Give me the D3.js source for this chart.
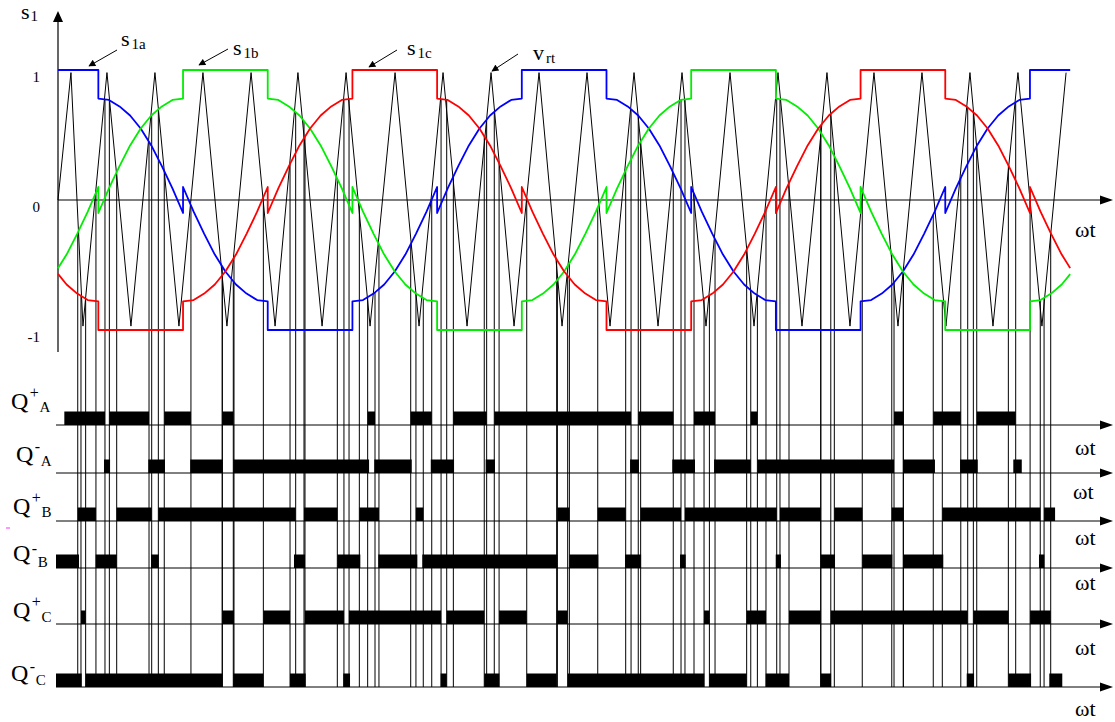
<!DOCTYPE html>
<html>
<head>
<meta charset="utf-8">
<script src="https://cdn.jsdelivr.net/npm/d3@7"></script>
<style>
  body { margin: 0; background: #fff; }
  svg { display: block; }
  text { font-family: "Liberation Serif", "Times New Roman", serif; fill: #000; }
</style>
</head>
<body>
<div id="chart"></div>
<script>
// ---- data (ωt in degrees) ----

// one period of s1a, [θ, value]; s1b and s1c are the same wave shifted
var s1Shape = [
  [-30, 1], [30, 1],
  [30, 0.78], [37.5, 0.77], [45, 0.72], [52.5, 0.65], [60, 0.55], [67.5, 0.42], [75, 0.26], [82.5, 0.09], [90, -0.1],
  [90, 0.1], [97.5, -0.09], [105, -0.26], [112.5, -0.42], [120, -0.55], [127.5, -0.65], [135, -0.72], [142.5, -0.77], [150, -0.78],
  [150, -1], [210, -1],
  [210, -0.78], [217.5, -0.77], [225, -0.72], [232.5, -0.65], [240, -0.55], [247.5, -0.42], [255, -0.26], [262.5, -0.09], [270, 0.1],
  [270, -0.1], [277.5, 0.09], [285, 0.26], [292.5, 0.42], [300, 0.55], [307.5, 0.65], [315, 0.72], [322.5, 0.77], [330, 0.78],
  [330, 1]
];
var phaseNames = ["1a", "1b", "1c"];
var phaseShift = [0, 120, 240];
var tStart = 1.4, tEnd = 718.5;

// triangular carrier v_rt vertices
var carrierT = [1.4, 10.6, 19.1, 36.1, 53.1, 70.1, 87.1, 104.1, 121.1, 138.2, 155.2, 171.4, 188.5, 205.5,
  222.5, 240.2, 257.2, 274.2, 291.2, 308.2, 324.5, 342.2, 358.5, 376.2, 392.5, 409.5, 426.5, 443.5,
  460.5, 477.5, 494.5, 511.5, 528.5, 546.2, 562.5, 579.5, 596.5, 613.5, 630.5, 647.5, 663.8, 681.5,
  698.5, 715.6];
var carrierV = [0, 0.98, -0.97, 0.98, -0.97, 0.98, -0.97, 0.98, -0.97, 0.98, -0.97, 0.98, -0.97, 0.98,
  -0.97, 0.98, -0.97, 0.98, -0.97, 0.98, -0.97, 0.98, -0.97, 0.98, -0.97, 0.98, -0.97, 0.98,
  -0.97, 0.98, -0.97, 0.98, -0.97, 0.98, -0.97, 0.98, -0.97, 0.98, -0.97, 0.98, -0.97, 0.98,
  -0.97, 0.98];

// gate signals: on-intervals [from, to]
var qPlusA = [[5.9, 34.7], [37.8, 65.9], [76.7, 95.6], [117.8, 125.6], [220.8, 226.0], [251.3, 266.2],
  [281.5, 305.1], [310.5, 407.4], [412.5, 437.3], [452.0, 466.9], [492.2, 496.9], [593.7, 600.3],
  [621.5, 641.0], [652.3, 679.9]];
var qMinusA = [[34.0, 38.3], [65.4, 77.2], [95.1, 118.1], [125.6, 221.8], [225.5, 252.0], [265.5, 282.0],
  [304.4, 311.0], [406.7, 413.0], [436.6, 452.7], [466.2, 492.2], [496.9, 593.7], [600.3, 622.7],
  [640.5, 653.0], [678.2, 684.2]];
var qPlusB = [[15.4, 28.3], [43.0, 67.8], [72.5, 169.8], [175.7, 199.3], [214.9, 228.8], [255.0, 260.2],
  [355.2, 363.7], [383.8, 403.6], [414.2, 442.8], [445.6, 510.6], [512.9, 541.8], [551.4, 571.2],
  [592.1, 600.3], [627.9, 697.3], [700.0, 707.8]];
var qMinusB = [[0, 16.3], [28.1, 43.0], [67.3, 72.8], [168.6, 176.4], [199.3, 215.6], [228.3, 256.0],
  [259.5, 355.2], [363.7, 384.2], [403.1, 414.5], [442.1, 446.1], [509.9, 513.6], [541.8, 551.9],
  [571.2, 592.5], [600.3, 628.6], [696.4, 700.2]];
var qPlusC = [[17.7, 21.0], [117.8, 126.1], [146.9, 165.8], [176.4, 204.0], [207.6, 272.8], [276.8, 303.4],
  [313.9, 333.5], [354.7, 362.5], [459.1, 462.9], [489.3, 503.0], [519.3, 541.8], [548.9, 645.9],
  [649.9, 674.7], [690.1, 704.7]];
var qMinusC = [[0, 18.2], [21.0, 117.8], [125.6, 146.9], [165.8, 176.9], [203.5, 208.3], [272.5, 276.8],
  [303.4, 314.1], [333.5, 354.7], [362.5, 459.3], [462.9, 489.3], [502.8, 519.3], [541.8, 549.1],
  [645.2, 650.4], [674.7, 690.8], [703.7, 712.9]];

var gateSigns = ["+", "-", "+", "-", "+", "-"];
var gateLetters = ["A", "A", "B", "B", "C", "C"];
var gates = [qPlusA, qMinusA, qPlusB, qMinusB, qPlusC, qMinusC];

var yTicks = [1, 0, -1];

// ---- layout ----
var W = 1115, H = 722;
var colors = ["#0000ff", "#00ee00", "#ff0000"];
var rowBase = [425, 473, 521, 568, 624, 687];
var barH = 13.5;
// label layout: Q x, Q baseline, sign dy, letter dy (relative to Q baseline)
var qLab = [[11, 409, -11, 3], [16, 462, -10, 4], [13, 514, -11, 3],
            [13, 561, -7, 6], [13, 618, -11, 4], [11, 681, -9, 4]];
var wtLab = [[1075, 455], [1073, 499], [1075, 545], [1075, 590], [1075, 655], [1075, 716]];

var x = d3.scaleLinear().domain([0, 720]).range([56, 1072.3]);
var y = d3.scaleLinear().domain([-1, 1]).range([330, 70]);

var svg = d3.select("#chart").append("svg")
  .attr("width", W).attr("height", H);

// value of a phase wave at time t (from the read shape)
function valueAt(shift, t) {
  var th = ((t - shift + 30) % 360 + 360) % 360 - 30;
  for (var i = 0; i < s1Shape.length - 1; i++) {
    var a = s1Shape[i], b = s1Shape[i + 1];
    if (b[0] > a[0] && th >= a[0] && th <= b[0]) {
      return a[1] + (b[1] - a[1]) * (th - a[0]) / (b[0] - a[0]);
    }
  }
  return 0;
}

function wavePoints(shift) {
  var pts = [[tStart, valueAt(shift, tStart)]];
  for (var k = -1; k <= 2; k++) {
    s1Shape.forEach(function(p) {
      var t = p[0] + shift + 360 * k;
      if (t > tStart && t < tEnd) pts.push([t, p[1]]);
    });
  }
  pts.push([tEnd, valueAt(shift, tEnd)]);
  return pts;
}

function arrowHead(g, tipX, tipY, dir, len, half) {
  var p;
  if (dir === "right") p = [[tipX, tipY], [tipX - len, tipY - half], [tipX - len, tipY + half]];
  else p = [[tipX, tipY], [tipX - half, tipY + len], [tipX + half, tipY + len]];
  g.append("path").attr("d", "M" + p.join("L") + "Z").attr("fill", "#000");
}

// ---- top axes ----
var topG = svg.append("g");
topG.append("line").attr("x1", 58).attr("x2", 58).attr("y1", 352).attr("y2", 20)
  .attr("stroke", "#000").attr("stroke-width", 1.2);
arrowHead(topG, 58, 11, "up", 11, 5);
topG.append("line").attr("x1", 58).attr("x2", 1102).attr("y1", y(0)).attr("y2", y(0))
  .attr("stroke", "#000").attr("stroke-width", 1.2);
arrowHead(topG, 1113, y(0), "right", 13, 4.5);

topG.selectAll("text.tick").data(yTicks).enter().append("text")
  .attr("class", "tick")
  .attr("x", 40).attr("text-anchor", "end")
  .attr("y", function(d) { return y(d) + 12; })
  .attr("font-size", 15)
  .text(function(d) { return d; });

var sl = topG.append("text").attr("x", 21).attr("y", 19).attr("font-size", 22);
sl.append("tspan").text("s");
sl.append("tspan").attr("font-size", 15).attr("dy", 2).attr("dx", 1).text("1");

topG.append("text").attr("x", 1075).attr("y", 237).attr("font-size", 22).text("ωt");

// ---- carrier ----
var line = d3.line().x(function(d) { return x(d[0]); }).y(function(d) { return y(d[1]); });
var carrier = carrierT.map(function(t, i) { return [t, carrierV[i]]; });
svg.append("path").datum(carrier).attr("d", line)
  .attr("fill", "none").attr("stroke", "#000").attr("stroke-width", 1);

// ---- vertical switching lines ----
var vlines = [];
[0, 1, 2].forEach(function(p) {
  var plusEdges = d3.merge(gates[2 * p]);
  var minusEdges = d3.merge(gates[2 * p + 1]);
  plusEdges.forEach(function(e) {
    var partner = minusEdges.some(function(m) { return Math.abs(m - e) < 2.5; });
    if (partner && e > 1) vlines.push({ t: e, v: valueAt(phaseShift[p], e) });
  });
});
svg.append("g").selectAll("line").data(vlines).enter().append("line")
  .attr("x1", function(d) { return x(d.t); })
  .attr("x2", function(d) { return x(d.t); })
  .attr("y1", function(d) { return y(d.v); })
  .attr("y2", rowBase[5])
  .attr("stroke", "#000").attr("stroke-width", 1);

// ---- modulating waves ----
phaseShift.forEach(function(s, i) {
  svg.append("path").datum(wavePoints(s)).attr("d", line)
    .attr("fill", "none").attr("stroke", colors[i]).attr("stroke-width", 1.8)
    .attr("stroke-linejoin", "round");
});

// ---- annotations ----
var ann = [
  { sub: "1a", main: "s", tx: 121, ty: 46, from: [117, 50], to: [89, 66] },
  { sub: "1b", main: "s", tx: 233, ty: 55, from: [228, 49], to: [199, 65] },
  { sub: "1c", main: "s", tx: 407, ty: 55, from: [397, 50], to: [369, 67] },
  { sub: "rt", main: "v", tx: 533, ty: 60, from: [518, 54], to: [492, 71] }
];
svg.append("defs").append("marker")
  .attr("id", "ah").attr("viewBox", "0 0 10 10").attr("refX", 9).attr("refY", 5)
  .attr("markerWidth", 9).attr("markerHeight", 7).attr("markerUnits", "userSpaceOnUse")
  .attr("orient", "auto")
  .append("path").attr("d", "M0,0L10,5L0,10Z").attr("fill", "#000");
ann.forEach(function(a) {
  svg.append("line").attr("x1", a.from[0]).attr("y1", a.from[1])
    .attr("x2", a.to[0]).attr("y2", a.to[1])
    .attr("stroke", "#000").attr("stroke-width", 1).attr("marker-end", "url(#ah)");
  var t = svg.append("text").attr("x", a.tx).attr("y", a.ty).attr("font-size", 22);
  t.append("tspan").text(a.main);
  t.append("tspan").attr("font-size", 15).attr("dy", 3).attr("dx", 2).text(a.sub);
});

// ---- gate rows ----
gates.forEach(function(rows, r) {
  var g = svg.append("g");
  var base = rowBase[r];
  g.selectAll("rect").data(rows).enter().append("rect")
    .attr("x", function(d) { return x(d[0]); })
    .attr("width", function(d) { return x(d[1]) - x(d[0]); })
    .attr("y", base - barH).attr("height", barH)
    .attr("fill", "#000");
  g.append("line").attr("x1", 56).attr("x2", 1102).attr("y1", base).attr("y2", base)
    .attr("stroke", "#000").attr("stroke-width", 1);
  arrowHead(g, 1113, base, "right", 13, 4.5);

  var L = qLab[r];
  var t = g.append("text").attr("x", L[0]).attr("y", L[1]).attr("font-size", 24);
  t.append("tspan").text("Q");
  t.append("tspan").attr("font-size", 16).attr("dx", 1.5).attr("dy", L[2]).text(gateSigns[r]);
  t.append("tspan").attr("font-size", 15).attr("dx", 0.5).attr("dy", L[3] - L[2])
    .text(gateLetters[r]);

  g.append("text").attr("x", wtLab[r][0]).attr("y", wtLab[r][1]).attr("font-size", 22).text("ωt");
});

// small stray mark left of the Q+B row
svg.append("line").attr("x1", 6).attr("x2", 10).attr("y1", 528).attr("y2", 528)
  .attr("stroke", "#ff33ff").attr("stroke-width", 1);
</script>
</body>
</html>
